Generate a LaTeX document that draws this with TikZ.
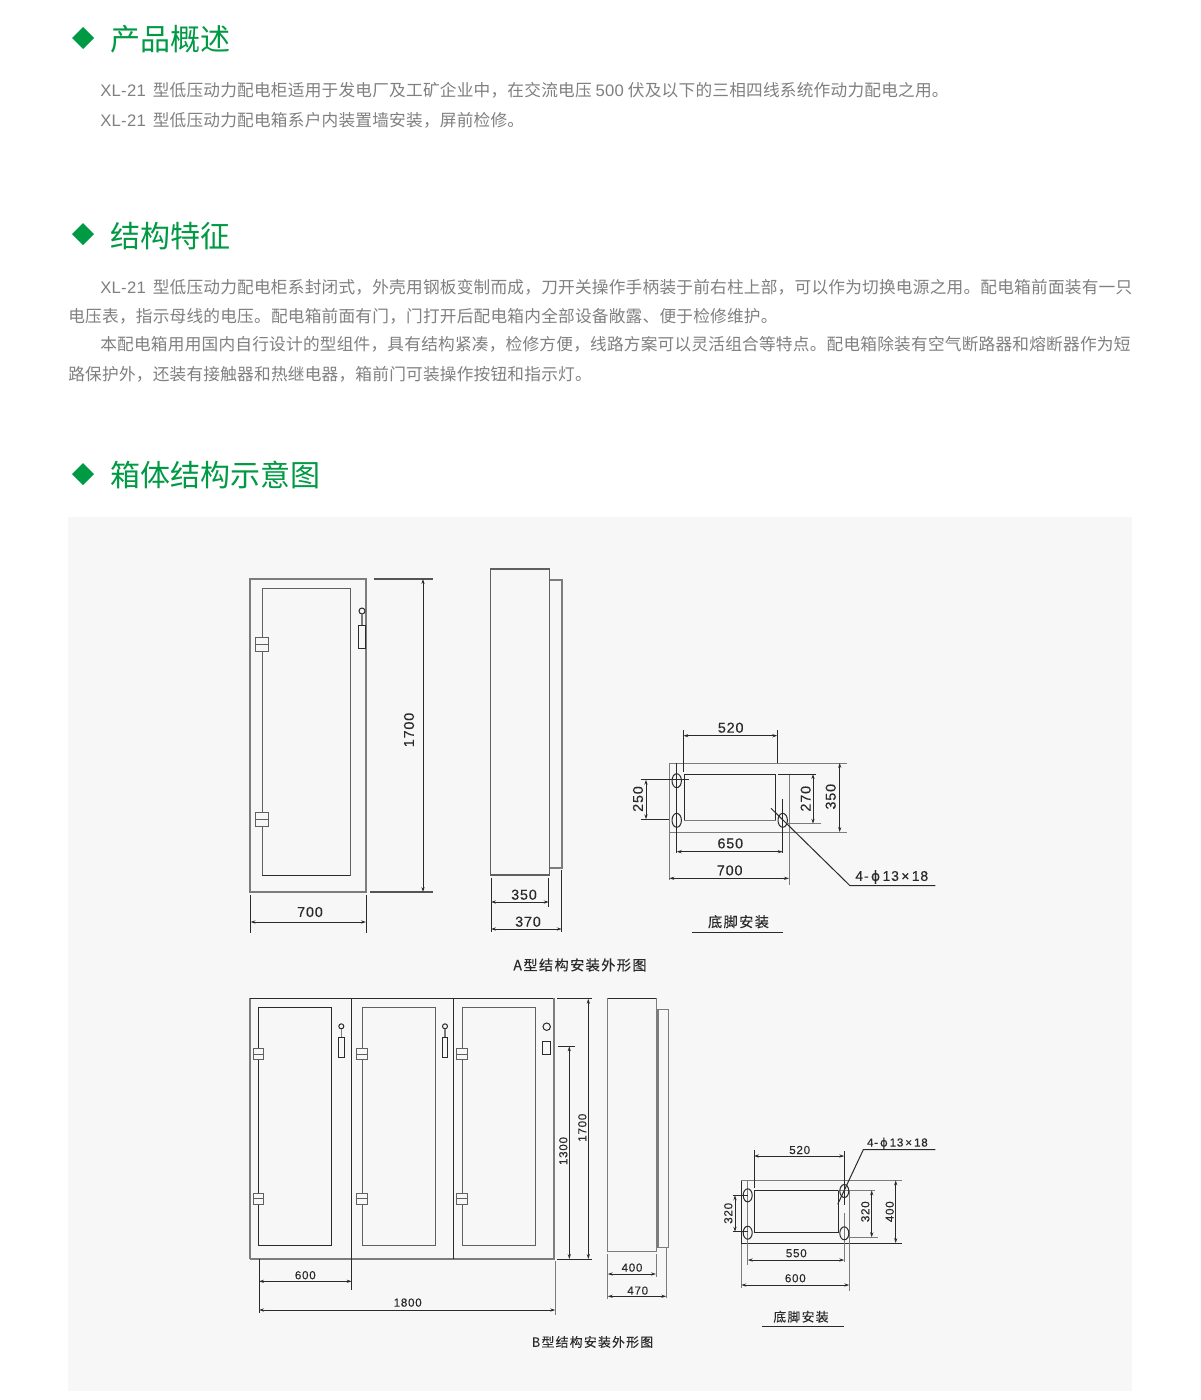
\documentclass[tikz,border=0pt]{standalone}
\usepackage{fontspec}
\usetikzlibrary{arrows.meta}
\setmainfont{Liberation Sans}
\newfontfamily\cjk{Noto Sans CJK SC}
\newfontfamily\cjkbody[LetterSpace=1.35]{Noto Sans CJK SC}
\newfontfamily\latbody[LetterSpace=1.5]{Liberation Sans}
\newfontfamily\cjksp[LetterSpace=10,FakeBold=0.25]{Noto Sans CJK SC}
\newfontfamily\dimfont[LetterSpace=6,FakeBold=0.15]{Liberation Sans}
\newfontfamily\phifont[FakeBold=0.15]{DejaVu Sans}
\newcommand\lat[1]{{\latbody #1}}
\definecolor{greenhead}{HTML}{009944}
\definecolor{bodygray}{HTML}{808080}
\definecolor{panel}{HTML}{F7F7F7}
\definecolor{ink}{HTML}{2A2A2A}
\definecolor{gline}{HTML}{7C7C7C}
\definecolor{doorline}{HTML}{606060}
\tikzset{
  px/.style={x=0.6pt,y=-0.6pt},
  headtext/.style={anchor=west,inner sep=0pt,text=greenhead,font=\cjk\fontsize{18}{18}\selectfont},
  bodytext/.style={anchor=west,inner sep=0pt,text=bodygray,font=\cjkbody\fontsize{10}{12}\selectfont},
  diamondmark/.style={fill=greenhead,draw=none},
  thin gray/.style={draw=gline,line width=0.7pt},
  thick gray/.style={draw=gline,line width=1pt},
  door line/.style={draw=doorline,line width=0.6pt},
  thin ink/.style={draw=ink,line width=0.6pt},
  dimline/.style={draw=ink,line width=0.5pt,{Stealth[length=3pt,width=1.9pt]}-{Stealth[length=3pt,width=1.9pt]}},
  dimtext/.style={inner sep=0pt,text=ink,font=\dimfont\fontsize{8.6}{9}\selectfont},
  dimsmall/.style={inner sep=0pt,text=ink,font=\dimfont\fontsize{7}{8}\selectfont},
  capa/.style={inner sep=0pt,text=ink,font=\cjksp\fontsize{8.5}{9}\selectfont},
  capb/.style={inner sep=0pt,text=ink,font=\cjksp\fontsize{7.7}{9}\selectfont},
}
\begin{document}
\begin{tikzpicture}[px]
\useasboundingbox (0,0) rectangle (1200,1400);
\fill[white] (0,0) rectangle (1200,1400);
\fill[panel] (68,517) rectangle (1132,1391);

% headings
\foreach \yy in {38,234,474}{\fill[diamondmark] (72,\yy) -- (83,\yy-11) -- (94,\yy) -- (83,\yy+11) -- cycle;}
\node[headtext] (h1) at (110,39.5) {产品概述};
\node[headtext] (h2) at (110,236.5) {结构特征};
\node[headtext] (h3) at (110,475) {箱体结构示意图};

% body
\node[bodytext] (b1) at (100,90.5) {\lat{XL-21}\hspace{1.8pt} 型低压动力配电柜适用于发电厂及工矿企业中，在交流电压 \lat{500} 伏及以下的三相四线系统作动力配电之用。};
\node[bodytext] (b2) at (100,120.5) {\lat{XL-21}\hspace{1.8pt} 型低压动力配电箱系户内装置墙安装，屏前检修。};
\node[bodytext] (b3) at (100,287.5) {\lat{XL-21}\hspace{1.8pt} 型低压动力配电柜系封闭式，外壳用钢板变制而成，刀开关操作手柄装于前右柱上部，可以作为切换电源之用。配电箱前面装有一只};
\node[bodytext] (b4) at (68,316.5) {电压表，指示母线的电压。配电箱前面有门，门打开后配电箱内全部设备敞露、便于检修维护。};
\node[bodytext] (b5) at (100,344.5) {本配电箱用用国内自行设计的型组件，具有结构紧凑，检修方便，线路方案可以灵活组合等特点。配电箱除装有空气断路器和熔断器作为短};
\node[bodytext] (b6) at (68,374.5) {路保护外，还装有接触器和热继电器，箱前门可装操作按钮和指示灯。};

% ===== A front =====
\draw[thick gray] (250,579) rectangle (366,892);
\draw[door line] (262,588) rectangle (350,875);
\draw[thin ink] (262,875) -- (350,875);
\foreach \yy in {637,812}{
  \fill[panel] (255.5,\yy) rectangle (268,\yy+14.5);
  \draw[door line] (255.5,\yy) rectangle (268,\yy+14.5);
  \draw[door line] (255.5,\yy+7.2) -- (268,\yy+7.2);
}
\draw[thin ink] (362,611) circle[radius=3];
\draw[thin gray] (362,614) -- (362,625);
\draw[thin ink] (358.5,625) rectangle (365,648);
% A front dims
\draw[thick gray,draw=ink!80] (374,579) -- (433,579);
\draw[thick gray,draw=ink!80] (370,892) -- (433,892);
\draw[dimline] (423,579) -- (423,892);
\node[dimtext,rotate=90] (a1700) at (409,730) {1700};
\draw[thin ink] (250.5,895) -- (250.5,933);
\draw[thin ink] (366,895) -- (366,933);
\draw[dimline] (250.5,922) -- (366,922);
\node[dimtext] (a700) at (310,912) {700};

% ===== A side =====
\draw[thick gray,draw=doorline] (490.5,569) rectangle (549.5,875);
\draw[thin gray] (549.5,580) -- (562,580) -- (562,868) -- (549.5,868);
\draw[thin ink] (491,878) -- (491,932);
\draw[thin ink] (548.7,878) -- (548.7,907);
\draw[thin ink] (561.7,870) -- (561.7,932);
\draw[dimline] (491,902) -- (548.7,902);
\draw[dimline] (491,929) -- (561.7,929);
\node[dimtext] (a350) at (524,894.7) {350};
\node[dimtext] (a370) at (528,921.7) {370};
\node[capa] (acap) at (580,965) {A型结构安装外形图};

% ===== A base =====
\draw[thin ink,draw=gline] (669.3,763) -- (846.7,763);
\draw[thin ink,draw=gline] (669.3,832) -- (846.7,832);
\draw[thin ink,draw=gline] (669.3,763) -- (669.3,880);
\draw[thin ink,draw=gline] (789,774) -- (789,885);
\draw[thin ink] (684.3,820.3) -- (684.3,774) -- (775.7,774) -- (775.7,820.3);
\draw[thin ink,draw=gline] (684.3,820.3) -- (775.7,820.3);
\draw[thin ink] (778,774) -- (815.7,774);
\draw[thin ink] (676.7,763) -- (676.7,853);
\draw[thin ink] (782.7,799) -- (782.7,853);
\foreach \xx/\yy in {676.7/780.7,676.7/820.3,782.7/820.3}{\draw[thin ink] (\xx,\yy) ellipse[x radius=4.7,y radius=7];}
\draw[thin ink] (640.7,779.7) -- (689,779.7);
\draw[thin ink] (640.7,819.3) -- (669,819.3);
\draw[dimline] (646,779.7) -- (646,819.3);
\node[dimtext,rotate=90] (b250) at (638,799) {250};
\draw[thin ink] (683.3,730) -- (683.3,772);
\draw[thin ink] (777.3,730) -- (777.3,763);
\draw[dimline] (683.3,735.7) -- (777.3,735.7);
\node[dimtext] (b520) at (730.7,727.7) {520};
\draw[thin ink,draw=gline] (786.7,823.7) -- (820.7,823.7);
\draw[dimline] (813,774) -- (813,823.7);
\node[dimtext,rotate=90] (b270) at (805.7,798.7) {270};
\draw[dimline] (839.7,763) -- (839.7,832);
\node[dimtext,rotate=90] (b350) at (830.7,796.7) {350};
\draw[dimline] (676.7,851.7) -- (782.7,851.7);
\node[dimtext] (b650) at (730.3,843.4) {650};
\draw[dimline] (669.3,878.3) -- (789,878.3);
\node[dimtext] (b700) at (729.7,870.4) {700};
\draw[thin ink] (771,808.3) -- (850,885.7) -- (935.3,885.7);
\node[dimtext,anchor=west,font=\dimfont\fontsize{8.4}{9}\selectfont] (bhole) at (855,877) {4-\,{\phifont ϕ}\,13\,×\,18};
\node[capa] (bcap) at (738.5,921.7) {底脚安装};
\draw[thin ink] (692.3,932.7) -- (782.7,932.7);

% ===== B front =====
\draw[thick gray] (250,1259) -- (250,998.3);
\draw[thin ink,line width=0.8pt] (250,998.3) -- (554.3,998.3);
\draw[thick gray] (554.3,998.3) -- (554.3,1259) -- (250,1259);
\draw[thin ink] (351.7,998.3) -- (351.7,1290);
\draw[thin ink] (453,998.3) -- (453,1259);
\draw[thin ink] (258.3,1007.3) rectangle (331.7,1245.3);
\draw[door line] (362,1007.3) rectangle (435.7,1245.3);
\draw[door line] (462,1007.3) rectangle (535.3,1245.3);
\foreach \xa in {253,356.7,456.7}{
  \foreach \yy in {1048.3,1193}{
    \fill[panel] (\xa,\yy) rectangle (\xa+10.8,\yy+11.5);
    \draw[door line] (\xa,\yy) rectangle (\xa+10.8,\yy+11.5);
    \draw[door line] (\xa,\yy+5.7) -- (\xa+10.8,\yy+5.7);
  }
}
\foreach \xx in {341.3,445}{
  \draw[thin ink] (\xx,1026.3) circle[radius=2.5];
  \draw[thin gray] (\xx,1028.8) -- (\xx,1037.3);
  \draw[thin ink] (\xx-2.7,1037.3) rectangle (\xx+2.7,1057.3);
}
\draw[thin ink] (546.7,1026.7) circle[radius=3.7];
\draw[thin ink] (542.3,1041.3) rectangle (550.7,1054.3);
% B dims
\draw[thin ink] (557,998.7) -- (591.7,998.7);
\draw[thin ink] (557,1259) -- (591.7,1259);
\draw[dimline] (588.3,998.7) -- (588.3,1259);
\node[dimsmall,rotate=90] (c1700) at (582.3,1127.7) {1700};
\draw[thin ink,line width=0.8pt] (558.3,1046.3) -- (575.3,1046.3);
\draw[dimline] (569.3,1046.3) -- (569.3,1259);
\node[dimsmall,rotate=90] (c1300) at (563.3,1151) {1300};
\draw[thin ink] (259,1259) -- (259,1313.3);
\draw[dimline] (259,1281.3) -- (351.7,1281.3);
\node[dimsmall] (c600) at (305.3,1275.2) {600};
\draw[thin ink,draw=gline] (555.3,1261) -- (555.3,1315);
\draw[dimline] (259,1310) -- (555.3,1310);
\node[dimsmall] (c1800) at (407.7,1302.6) {1800};

% ===== B side =====
\draw[thin ink] (607.3,998.3) -- (656.3,998.3);
\draw[thin ink,draw=gline] (656.3,998.3) -- (656.3,1251.7) -- (607.3,1251.7) -- (607.3,998.3);
\draw[thin gray] (658,1009.3) rectangle (668.7,1247.3);
\draw[draw=gline,line width=1.2pt] (657.5,1009.3) -- (657.5,1247.3);
\draw[thin ink,draw=gline] (607.7,1254) -- (607.7,1299);
\draw[thin ink,draw=gline] (656,1254) -- (656,1277);
\draw[thin ink,draw=gline] (666.3,1247.7) -- (666.3,1297.7);
\draw[dimline] (607.7,1274) -- (656,1274);
\draw[dimline] (607.7,1296.3) -- (666.3,1296.3);
\node[dimsmall] (c400) at (632,1267.6) {400};
\node[dimsmall] (c470) at (637.7,1290.6) {470};
\node[capb] (ccap) at (592.5,1342) {B型结构安装外形图};

% ===== B base =====
\draw[thin ink] (741.3,1180.3) -- (741.3,1243);
\draw[thin ink,draw=gline] (741.3,1243) -- (741.3,1288.3);
\draw[thin ink,draw=gline] (741.3,1180.3) -- (902.3,1180.3);
\draw[thin ink] (741.3,1243) -- (902.3,1243);
\draw[thin ink,draw=gline] (849.3,1190) -- (849.3,1291);
\draw[thin ink] (754.7,1190.3) rectangle (838,1232.7);
\draw[thin ink,draw=gline] (838,1190.3) -- (875,1190.3);
\draw[thin ink,draw=gline] (747.7,1180.3) -- (747.7,1265);
\draw[thin ink] (844.3,1151) -- (844.3,1205);
\draw[thin ink,draw=gline] (844.3,1213) -- (844.3,1262);
\foreach \xx/\yy in {747.7/1195.3,747.7/1232.7,844.3/1191,844.3/1233.3}{\draw[thin ink] (\xx,\yy) ellipse[x radius=4.5,y radius=6.5];}
\draw[thin ink] (754,1150) -- (754,1188);
\draw[dimline] (754,1156) -- (844.3,1156);
\node[dimsmall] (d520) at (799.7,1150) {520};
\draw[thin ink] (732.7,1195.3) -- (748,1195.3);
\draw[thin ink] (732.7,1231.7) -- (748,1231.7);
\draw[dimline] (735,1195.3) -- (735,1231.7);
\node[dimsmall,rotate=90] (d320a) at (728.3,1213.3) {320};
\draw[thin ink,draw=gline] (848.3,1237.3) -- (878.3,1237.3);
\draw[dimline] (871.7,1190.3) -- (871.7,1237.3);
\node[dimsmall,rotate=90] (d320b) at (865.3,1211.7) {320};
\draw[dimline] (895.7,1180.3) -- (895.7,1243);
\node[dimsmall,rotate=90] (d400) at (889.7,1211.7) {400};
\draw[dimline] (747.7,1260) -- (844.3,1260);
\node[dimsmall] (d550) at (796.3,1253.2) {550};
\draw[dimline] (741.3,1285) -- (849.3,1285);
\node[dimsmall] (d600) at (795.3,1278.2) {600};
\draw[thin ink] (837.7,1204.3) -- (863.3,1149.7) -- (935.3,1149.7);
\node[dimsmall,anchor=west] (dhole) at (866.7,1143.3) {4-\,{\phifont ϕ}\,13\,×\,18};
\node[capb] (dcap) at (801,1316.7) {底脚安装};
\draw[thin ink] (761.7,1326.7) -- (844.3,1326.7);
\end{tikzpicture}
\end{document}
